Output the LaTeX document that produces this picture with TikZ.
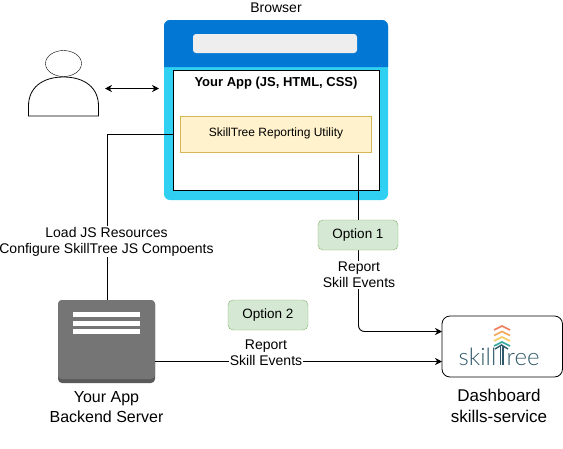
\documentclass[tikz,border=0pt]{standalone}
\usepackage{fontspec}
\setmainfont{Liberation Sans}
\newfontfamily\logofont{Lato Light}
\usetikzlibrary{arrows.meta,positioning,shapes.geometric}
\definecolor{chrome}{RGB}{2,119,212}
\definecolor{pagebg}{RGB}{47,208,242}
\definecolor{urlbar}{RGB}{238,238,238}
\definecolor{notefill}{RGB}{255,242,204}
\definecolor{notedraw}{RGB}{214,182,86}
\definecolor{optfill}{RGB}{213,232,212}
\definecolor{optdraw}{RGB}{130,179,102}
\definecolor{srvface}{RGB}{117,117,117}
\definecolor{srvedge}{RGB}{90,90,90}
\definecolor{logotext}{RGB}{47,88,104}
\definecolor{chevred}{RGB}{238,128,96}
\definecolor{chevorange}{RGB}{243,170,92}
\definecolor{chevyellow}{RGB}{245,204,96}
\definecolor{chevteal}{RGB}{58,169,159}
\tikzset{
  plain/.style={inner sep=0pt, outer sep=0pt, minimum width=#1},
  txt/.style={inner sep=0pt, align=center, font=\fontsize{14}{16}\selectfont},
  bigtxt/.style={inner sep=0pt, align=center, font=\fontsize{16}{20}\selectfont},
  lbl/.style={txt, fill=white, inner sep=1pt},
  option/.style={draw=optdraw, fill=optfill, rounded corners=5pt, inner sep=0pt,
    minimum width=80pt, minimum height=30pt, font=\fontsize{13.5}{15}\selectfont},
  flow/.style={draw=black, line width=0.9pt, -{Stealth[length=7pt,width=7pt]}},
  wire/.style={draw=black, line width=0.9pt},
  both/.style={draw=black, line width=0.9pt, {Stealth[length=7pt,width=7pt]}-{Stealth[length=7pt,width=7pt]}},
  chevron/.style={line width=1.6pt, line join=miter}
}
\begin{document}
\begin{tikzpicture}[x=1pt,y=-1pt]
    \useasboundingbox (0,0) rectangle (563,448);
    % browser
    \node[plain=224pt, minimum height=180pt, fill=pagebg, rounded corners=6pt] (browser) at (276,110) {};
    \fill[chrome] (164,67) [rounded corners=6pt] -- (164,20) -- (388,20) [sharp corners] -- (388,67) -- cycle;
    \node[plain=164pt, minimum height=19pt, fill=urlbar, rounded corners=3pt] (urlfield) at (275,43.5) {};
    \node[plain=206pt, minimum height=120pt, draw=black, line width=0.9pt, fill=white] (appwin) at (276,130) {};
    \node[plain=191pt, minimum height=36pt, draw=notedraw, fill=notefill] (reporting) at (275.5,134.5) {};
    \node[txt, font=\fontsize{12}{14}\selectfont] (reportingtxt) at (276,133) {SkillTree Reporting Utility};
    \node[txt, font=\fontsize{13}{15}\selectfont\bfseries] (apptitle) at (276,83) {Your App (JS, HTML, CSS)};
    \node[txt] (browsertitle) at (276,8) {Browser};

    % user
    \node[plain=71pt, minimum height=56pt] (person) at (63.5,88.5) {};
    \node[draw=black, fill=white, ellipse, inner sep=0pt, minimum width=36pt, minimum height=26pt] (head) at (63.5,63.5) {};
    \draw[line width=0.8pt, fill=white] (28.5,116) -- (28.5,106) .. controls (28.5,88) and (42,77) .. (63.5,77)
      .. controls (85,77) and (98.5,88) .. (98.5,106) -- (98.5,116) -- cycle;
    \draw[both] ([xshift=6pt]person.east) -- ([xshift=-5pt]person.east -| browser.west);

    % server
    \node[plain=97pt, minimum height=83pt, fill=srvedge, rounded corners=4pt] (server) at (106.5,341.5) {};
    \fill[srvface, rounded corners=4pt] (58,300) rectangle (155,379);
    \foreach \barY in {314.5,323,331.5}
      \fill[white] (73,\barY-2.5) rectangle (140,\barY+2.5);
    \node[bigtxt] (servertxt) at (106.5,407.5) {Your App\\Backend Server};

    % dashboard
    \node[plain=120.5pt, minimum height=61pt, draw=black, line width=0.8pt, rounded corners=8pt] (dashboard) at (502.25,346.5) {};
    \node[bigtxt, font=\fontsize{17}{21}\selectfont] (dashtxt) at (499,405.5) {Dashboard\\skills-service};
    \foreach \chevY/\chevC in {326/chevred,331.5/chevorange,337/chevyellow,342/chevteal}
      \draw[chevron, color=\chevC] (494,\chevY+4) -- (502,\chevY) -- (510,\chevY+4);
    \draw[line width=1.4pt, logotext] (495,349) -- (501.5,345) -- (508,349);
    \draw[line width=1.2pt, logotext] (500.5,346) -- (500.5,365) (503,346) -- (503,365);
    \node[anchor=base east, inner sep=0pt, text=logotext, font=\logofont\fontsize{24}{24}\selectfont] (logoleft) at (496.5,365) {skill};
    \node[anchor=base west, inner sep=0pt, text=logotext, font=\logofont\fontsize{24}{24}\selectfont] (logoright) at (506.5,365) {ree};

    % connectors
    \draw[wire] (reporting.west -| appwin.west) -| ([xshift=0.5pt]server.north);
    \node[lbl] (loadlbl) at (106.5,241.5) {Load JS Resources\\Configure SkillTree JS Compoents};

    \draw[flow, rounded corners=6pt] ([xshift=-12.5pt,yshift=-2pt]reporting.south east) |- ([yshift=15pt]dashboard.west);
    \node[option] (opt1) at (358,235) {Option 1};
    \node[lbl] (report1) at (359,275) {Report\\Skill Events};

    \draw[flow] ([yshift=-20pt]server.east) -- ([yshift=-20pt]server.east -| dashboard.west);
    \node[option] (opt2) at (268,315) {Option 2};
    \node[lbl] (report2) at (266,353) {Report\\Skill Events};
  \end{tikzpicture}
\end{document}
